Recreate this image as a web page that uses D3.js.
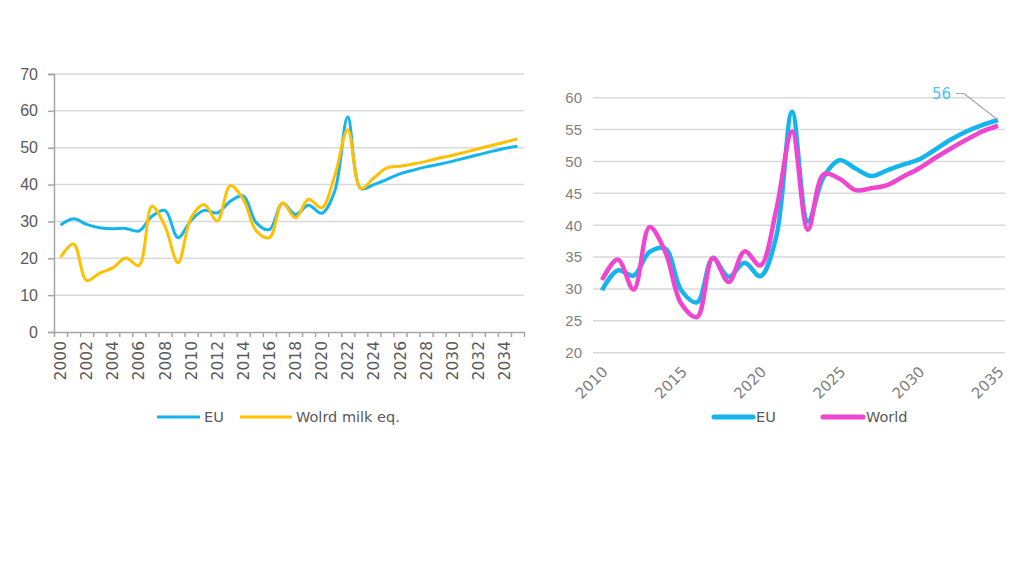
<!DOCTYPE html>
<html>
<head>
<meta charset="utf-8">
<script src="https://cdn.jsdelivr.net/npm/d3@7"></script>
<style>
  body { margin: 0; background: #fff; }
  svg { font-family: "DejaVu Sans", sans-serif; }
</style>
</head>
<body>
<svg id="chart" width="1024" height="576"></svg>
<script>
// Left chart: 2000-2035
const yearsLeft = d3.range(2000, 2036);
const euLeft = [29.0, 30.7, 29.2, 28.3, 28.0, 28.1, 27.4, 31.4, 33.0, 25.6,
  30.3, 33.0, 32.3, 35.5, 36.9, 29.6, 27.8, 34.9, 31.9, 34.4,
  32.2, 38.2, 58.3, 38.9, 40.0, 41.4, 42.9, 43.9, 44.8, 45.5,
  46.3, 47.2, 48.1, 49.0, 49.8, 50.4];
const worldMilkLeft = [20.3, 23.9, 14.0, 16.0, 17.4, 20.1, 18.0, 34.1, 28.7, 18.8,
  31.0, 34.6, 30.1, 39.7, 36.0, 27.4, 25.6, 35.0, 31.0, 36.0,
  33.7, 42.3, 54.9, 38.9, 41.8, 44.5, 45.0, 45.6, 46.3, 47.2,
  47.9, 48.8, 49.7, 50.6, 51.5, 52.4];
const yTicksLeft = [0, 10, 20, 30, 40, 50, 60, 70];
const xLabelsLeft = d3.range(2000, 2035, 2);

// Right chart: 2010-2035
const yearsRight = d3.range(2010, 2036);
const euRight = [29.8, 32.9, 32.1, 35.8, 36.3, 29.8, 27.9, 34.8, 31.9, 34.1,
  32.0, 38.2, 57.8, 40.6, 47.6, 50.2, 48.9, 47.7, 48.6, 49.5,
  50.3, 51.8, 53.4, 54.7, 55.7, 56.5];
const worldRight = [31.4, 34.6, 29.9, 39.7, 35.8, 27.7, 25.6, 34.9, 31.1, 35.9,
  33.7, 42.4, 54.7, 39.3, 48.0, 47.3, 45.5, 45.8, 46.3, 47.6,
  48.9, 50.5, 52.0, 53.4, 54.7, 55.6];
const yTicksRight = [20, 25, 30, 35, 40, 45, 50, 55, 60];
const xTicksRight = [2010, 2015, 2020, 2025, 2030, 2035];

const blue = "#14b4ec";
const yellow = "#ffc000";
const pink = "#ee46d0";
const grid = "#d9d9d9";

const svg = d3.select("#chart");

// ---------- left chart ----------
const xL = d3.scaleLinear().domain([1999.5, 2035.5]).range([54, 524]);
const yL = d3.scaleLinear().domain([0, 70]).range([332, 74]);

const left = svg.append("g");

left.append("g")
  .selectAll("line")
  .data(yTicksLeft.slice(1))
  .join("line")
  .attr("x1", 54).attr("x2", 524)
  .attr("y1", d => yL(d)).attr("y2", d => yL(d))
  .attr("stroke", grid).attr("stroke-width", 1.5);

const yAxisL = left.append("g")
  .attr("transform", "translate(54,0)")
  .call(d3.axisLeft(yL).tickValues(yTicksLeft).tickSize(6).tickPadding(10));
yAxisL.select(".domain").attr("stroke", "#a6a6a6").attr("stroke-width", 1.5);
yAxisL.selectAll(".tick line").attr("stroke", "#a6a6a6").attr("stroke-width", 1.5);
yAxisL.selectAll("text").attr("fill", "#595959").style("font-size", "16px");

const xAxisL = left.append("g")
  .attr("transform", "translate(0,332)")
  .call(d3.axisBottom(xL).tickValues(d3.range(1999.5, 2036, 1)).tickFormat("").tickSize(5).tickSizeOuter(0));
xAxisL.select(".domain").attr("stroke", "#a6a6a6").attr("stroke-width", 1.5);
xAxisL.selectAll(".tick line").attr("stroke", "#a6a6a6").attr("stroke-width", 1.5);

left.append("g")
  .selectAll("text")
  .data(xLabelsLeft)
  .join("text")
  .attr("transform", d => `translate(${xL(d)},341) rotate(-90)`)
  .attr("text-anchor", "end")
  .attr("dy", "0.36em")
  .attr("fill", "#595959")
  .style("font-size", "15.5px")
  .text(d => d);

const lineL = d3.line()
  .x((d, i) => xL(yearsLeft[i]))
  .y(d => yL(d))
  .curve(d3.curveCatmullRom.alpha(0.5));

left.append("path")
  .datum(euLeft)
  .attr("d", lineL)
  .attr("fill", "none")
  .attr("stroke", blue)
  .attr("stroke-width", 3);

left.append("path")
  .datum(worldMilkLeft)
  .attr("d", lineL)
  .attr("fill", "none")
  .attr("stroke", yellow)
  .attr("stroke-width", 3);

// legend left
const legL = [
  { name: "EU", color: blue, x1: 157, x2: 200 },
  { name: "Wolrd milk eq.", color: yellow, x1: 240, x2: 292 }
];
legL.forEach(d => {
  left.append("line")
    .attr("x1", d.x1).attr("x2", d.x2)
    .attr("y1", 417).attr("y2", 417)
    .attr("stroke", d.color).attr("stroke-width", 3);
  left.append("text")
    .attr("x", d.x2 + 4).attr("y", 417)
    .attr("dy", "0.36em")
    .attr("fill", "#595959")
    .style("font-size", "14.5px")
    .text(d.name);
});

// ---------- right chart ----------
const xR = d3.scaleLinear().domain([2010, 2035]).range([602, 998]);
const yR = d3.scaleLinear().domain([20, 60]).range([352.7, 97.7]);

const right = svg.append("g");

right.append("g")
  .selectAll("line")
  .data(yTicksRight)
  .join("line")
  .attr("x1", 593).attr("x2", 1005)
  .attr("y1", d => yR(d)).attr("y2", d => yR(d))
  .attr("stroke", grid).attr("stroke-width", 1.5);

const yAxisR = right.append("g")
  .attr("transform", "translate(593,0)")
  .call(d3.axisLeft(yR).tickValues(yTicksRight).tickSize(0).tickPadding(11));
yAxisR.select(".domain").remove();
yAxisR.selectAll("text").attr("fill", "#7f7f7f").style("font-size", "15px");

right.append("g")
  .selectAll("text")
  .data(xTicksRight)
  .join("text")
  .attr("transform", d => `translate(${xR(d) + 3},369) rotate(-45)`)
  .attr("text-anchor", "end")
  .attr("dy", "0.36em")
  .attr("fill", "#7f7f7f")
  .style("font-size", "15px")
  .text(d => d);

const lineR = d3.line()
  .x((d, i) => xR(yearsRight[i]))
  .y(d => yR(d))
  .curve(d3.curveCatmullRom.alpha(0.5));

right.append("path")
  .datum(euRight)
  .attr("d", lineR)
  .attr("fill", "none")
  .attr("stroke", blue)
  .attr("stroke-width", 4.5);

right.append("path")
  .datum(worldRight)
  .attr("d", lineR)
  .attr("fill", "none")
  .attr("stroke", pink)
  .attr("stroke-width", 4.5);

// annotation for last EU value
const endX = xR(2035), endY = yR(euRight[euRight.length - 1]);
right.append("path")
  .attr("d", `M${endX - 42},${endY - 26.5} L${endX - 34},${endY - 26.5} L${endX},${endY}`)
  .attr("fill", "none")
  .attr("stroke", "#a6a6a6")
  .attr("stroke-width", 1.2);
right.append("text")
  .attr("x", endX - 47).attr("y", endY - 26.5)
  .attr("dy", "0.36em")
  .attr("text-anchor", "end")
  .attr("fill", "#4cc3f0")
  .style("font-size", "15px")
  .text("56");

// legend right
const legR = [
  { name: "EU", color: blue, x1: 714, x2: 753 },
  { name: "World", color: pink, x1: 823, x2: 863 }
];
legR.forEach(d => {
  right.append("line")
    .attr("x1", d.x1).attr("x2", d.x2)
    .attr("y1", 417).attr("y2", 417)
    .attr("stroke", d.color).attr("stroke-width", 5)
    .attr("stroke-linecap", "round");
  right.append("text")
    .attr("x", d.x2 + 3).attr("y", 417)
    .attr("dy", "0.36em")
    .attr("fill", "#595959")
    .style("font-size", "14.5px")
    .text(d.name);
});
</script>
</body>
</html>
